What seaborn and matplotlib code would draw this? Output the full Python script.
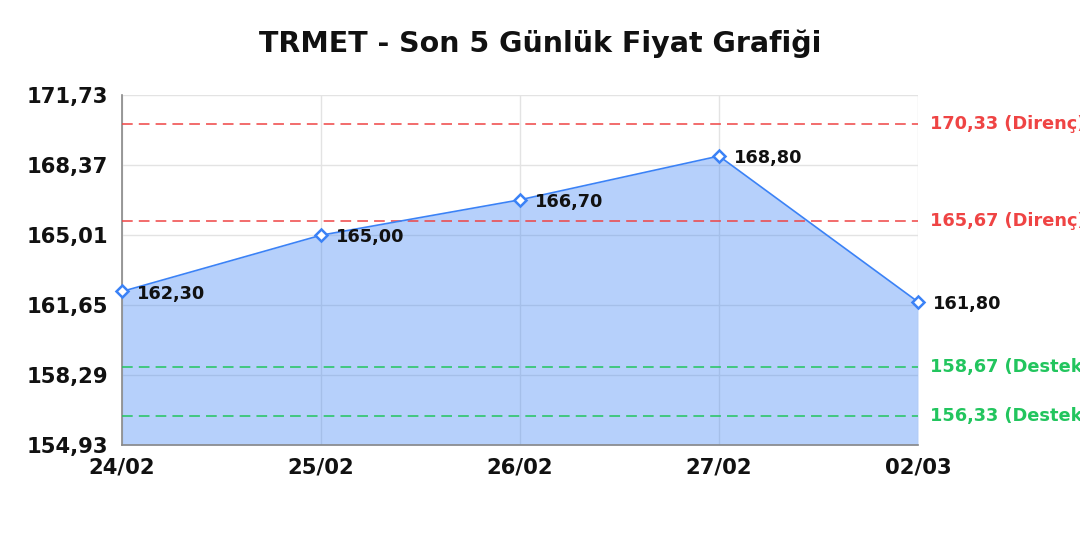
import numpy as np
import pandas as pd
import matplotlib
matplotlib.use("Agg")
import matplotlib.pyplot as plt
import seaborn as sns

# data
dates = ["24/02", "25/02", "26/02", "27/02", "02/03"]
prices = [162.30, 165.00, 166.70, 168.80, 161.80]
resistance = [170.33, 165.67]
support = [158.67, 156.33]
y_ticks = [154.93, 158.29, 161.65, 165.01, 168.37, 171.73]

BLUE = "#3b82f6"
RED = "#ef4444"
GREEN = "#22c55e"


def tr(v):
    return f"{v:.2f}".replace(".", ",")


sns.set_style("white")
plt.rcParams["font.family"] = ["DejaVu Sans"]

df = pd.DataFrame({"pos": np.arange(len(dates)), "price": prices})

fig = plt.figure(figsize=(10.8, 5.4), dpi=100)
ax = fig.add_axes([122 / 1080, 1 - 445 / 540, (918 - 122) / 1080, 350 / 540])

ax.fill_between(df["pos"], df["price"], y_ticks[0], color=BLUE, alpha=0.37,
                linewidth=0, zorder=2)
sns.lineplot(data=df, x="pos", y="price", color=BLUE, linewidth=1.2,
             marker="D", markersize=6.5, markerfacecolor="white",
             markeredgecolor=BLUE, markeredgewidth=1.8, ax=ax, zorder=4,
             clip_on=False)

for x, v in zip(df["pos"], df["price"]):
    ax.annotate(tr(v), (x, v), xytext=(11, -1.5), textcoords="offset points",
                ha="left", va="center", fontsize=12.8, fontweight="bold",
                color="#111111", zorder=5)

for lvl in resistance:
    ax.axhline(lvl, color=RED, linestyle=(0, (7, 4)), linewidth=1.1, zorder=3)
    ax.annotate(f"{tr(lvl)} (Direnç)", (1.0, lvl), xycoords=("axes fraction", "data"),
                xytext=(8.5, 0), textcoords="offset points", ha="left", va="center",
                fontsize=12.8, fontweight="bold", color=RED, annotation_clip=False)
for lvl in support:
    ax.axhline(lvl, color=GREEN, linestyle=(0, (7, 4)), linewidth=1.1, zorder=3)
    ax.annotate(f"{tr(lvl)} (Destek)", (1.0, lvl), xycoords=("axes fraction", "data"),
                xytext=(8.5, 0), textcoords="offset points", ha="left", va="center",
                fontsize=12.8, fontweight="bold", color=GREEN, annotation_clip=False)

ax.set_xlim(0, len(dates) - 1)
ax.set_ylim(y_ticks[0], y_ticks[-1])
ax.set_xticks(df["pos"])
ax.set_xticklabels(dates)
ax.set_yticks(y_ticks)
ax.set_yticklabels([tr(t) for t in y_ticks])
ax.tick_params(axis="both", length=0, labelsize=15.2, labelcolor="#111111")
ax.tick_params(axis="y", pad=10)
ax.tick_params(axis="x", pad=9)
for lab in ax.get_xticklabels() + ax.get_yticklabels():
    lab.set_fontweight("bold")
ax.set_xlabel("")
ax.set_ylabel("")
ax.grid(True, color="#e3e3e3", linewidth=1, zorder=0)
ax.set_axisbelow(True)
for side in ["top", "right"]:
    ax.spines[side].set_visible(False)
for side in ["left", "bottom"]:
    ax.spines[side].set_color("#888888")
    ax.spines[side].set_linewidth(1.2)

fig.text(540 / 1080, 1 - 44 / 540, "TRMET - Son 5 Günlük Fiyat Grafiği",
         ha="center", va="center", fontsize=20.5, fontweight="bold", color="#111111")

fig.savefig("out.png", dpi=100, facecolor="white")
